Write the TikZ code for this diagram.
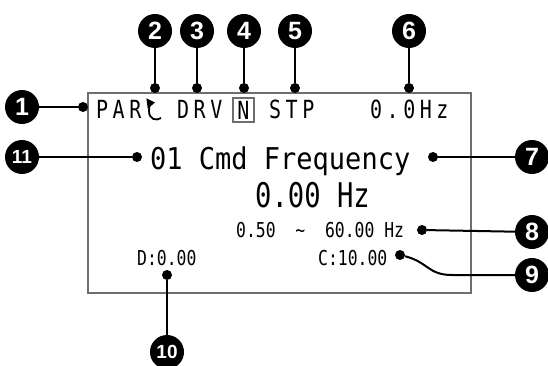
\documentclass[tikz,border=0pt]{standalone}
\usepackage{fontspec}
\usepackage{tikz}
\usetikzlibrary{arrows.meta}
\newfontfamily\lcdtop[FakeStretch=0.8,LetterSpace=18]{DejaVu Sans Mono}
\newfontfamily\lcdmid[FakeStretch=0.9]{DejaVu Sans Mono}
\newfontfamily\lcdbig[FakeStretch=0.8]{DejaVu Sans Mono}
\newfontfamily\numfont{Liberation Sans}
\tikzset{
  lcdframe/.style={draw=black!57, line width=2pt},
  lead/.style={line width=2pt},
  pindot/.style={circle, fill=black, minimum size=10pt, inner sep=0pt},
  callout/.style={circle, fill=black, text=white, minimum size=34pt, inner sep=0pt, font=\numfont\bfseries\fontsize{25}{25}\selectfont},
  callsmall/.style={callout, font=\numfont\bfseries\fontsize{19}{19}\selectfont},
  lcdtext/.style={inner sep=0pt, anchor=base west},
  rowtop/.style={lcdtext, font=\lcdtop\fontsize{25}{25}\selectfont},
  rowmid/.style={lcdtext, font=\lcdmid\fontsize{30}{30}\selectfont},
  rowbig/.style={lcdtext, font=\lcdbig\fontsize{34}{34}\selectfont},
  rowsmall/.style={lcdtext, font=\lcdbig\fontsize{20.5}{20.5}\selectfont},
  nbox/.style={draw=black!57, line width=1.2pt, minimum width=21pt, minimum height=24pt, inner sep=0pt, font=\lcdbig\fontsize{25}{25}\selectfont}
}
\begin{document}
\begin{tikzpicture}[x=1pt,y=-1pt]
\useasboundingbox (0,0) rectangle (548,366);
\draw[lcdframe] (88,93) rectangle (471,293);
\node[rowtop] (par) at (96,119) {PAR};
\draw[line width=1.8pt, -{Triangle[length=8pt,width=10pt]}] (161,118) .. controls (157,121) and (149,120) .. (149,111) .. controls (149,105) and (151,103) .. (155,102.5);
\node[rowtop] (drv) at (177,119) {DRV};
\node[nbox] (nmode) at (243.5,110) {N};
\node[rowtop] (stp) at (269,119) {STP};
\node[rowtop] (outhz) at (370,119) {0.0Hz};
\node[rowmid] (title) at (150,169) {01 Cmd Frequency};
\node[rowbig] (freq) at (255,207) {0.00 Hz};
\node[rowsmall] (range) at (236,237) {0.50\ \ \textasciitilde\ \ 60.00 Hz};
\node[rowsmall] (dval) at (137,265) {D:0.00};
\node[rowsmall] (cval) at (318,265) {C:10.00};

\node[pindot] (d1) at (83,107) {};
\node[pindot] (d2) at (155,88) {};
\node[pindot] (d3) at (197,88) {};
\node[pindot] (d4) at (244,88) {};
\node[pindot] (d5) at (295,88) {};
\node[pindot] (d6) at (409,88) {};
\node[pindot] (d7) at (433,157) {};
\node[pindot] (d8) at (422,230) {};
\node[pindot] (d9) at (400,255) {};
\node[pindot] (d10) at (167,275) {};
\node[pindot] (d11) at (137,157) {};

\node[callout] (c1) at (22,107) {1};
\node[callout] (c2) at (155,31) {2};
\node[callout] (c3) at (197,31) {3};
\node[callout] (c4) at (244,31) {4};
\node[callout] (c5) at (295,31) {5};
\node[callout] (c6) at (409,31) {6};
\node[callout] (c7) at (532,157) {7};
\node[callout] (c8) at (532,232) {8};
\node[callout] (c9) at (532,275) {9};
\node[callsmall] (c10) at (167,352) {10};
\node[callsmall] (c11) at (22,157) {11};
\coordinate (k9) at (452,275);

\path[lead]
  (c1) edge (d1)
  (c2) edge (d2)
  (c3) edge (d3)
  (c4) edge (d4)
  (c5) edge (d5)
  (c6) edge (d6)
  (c7) edge (d7)
  (c8) edge (d8)
  (c10) edge (d10)
  (c11) edge (d11);
\draw[lead] (d9) .. controls (428,262) and (428,275) .. (k9) -- (c9);
\end{tikzpicture}
\end{document}
